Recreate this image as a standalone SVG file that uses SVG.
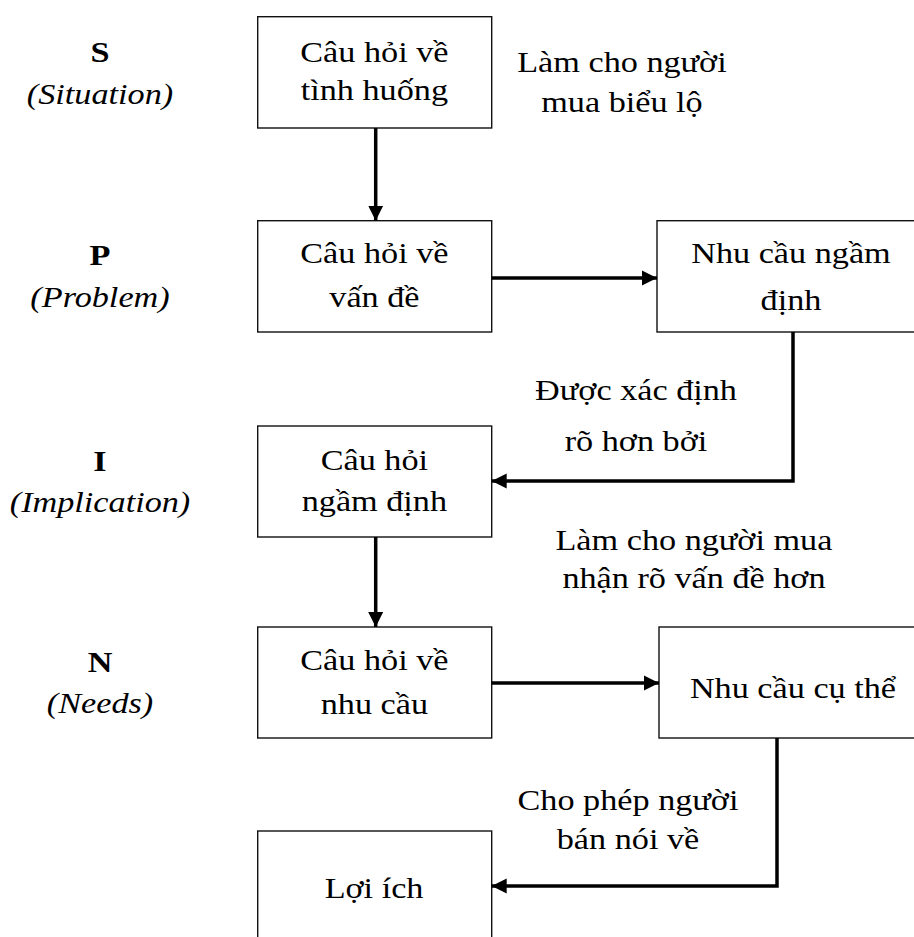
<svg xmlns="http://www.w3.org/2000/svg" width="914" height="937" viewBox="0 0 914 937">
  <style>
    .box { fill: #ffffff; stroke: #111111; stroke-width: 1.4; }
    .t { font-family: "Liberation Serif", "Times New Roman", serif; font-size: 29px; fill: #000000; text-anchor: middle; }
    .b { font-weight: bold; }
    .i { font-style: italic; }
    .conn { fill: none; stroke: #000000; stroke-width: 3.5; }
  </style>
  <defs>
    <marker id="arr" markerUnits="userSpaceOnUse" markerWidth="16" markerHeight="16" viewBox="0 0 16 16" refX="15" refY="8" orient="auto">
      <path d="M0,0.5 L15,8 L0,15.5 z" fill="#000000"/>
    </marker>
  </defs>
  <rect width="914" height="937" fill="#ffffff"/>

  <g id="labels">
    <text class="t b" transform="scale(1.18 1)" x="84.75" y="62">S</text>
    <text class="t i" transform="scale(1.18 1)" x="84.75" y="104">(Situation)</text>
    <text class="t b" transform="scale(1.18 1)" x="84.75" y="265">P</text>
    <text class="t i" transform="scale(1.18 1)" x="84.75" y="307">(Problem)</text>
    <text class="t b" transform="scale(1.18 1)" x="84.75" y="471">I</text>
    <text class="t i" transform="scale(1.18 1)" x="84.75" y="512">(Implication)</text>
    <text class="t b" transform="scale(1.18 1)" x="84.75" y="672">N</text>
    <text class="t i" transform="scale(1.18 1)" x="84.75" y="713">(Needs)</text>
  </g>

  <g id="node-s">
    <rect class="box" x="257.7" y="16.7" width="234" height="111.3"/>
    <text class="t" transform="scale(1.18 1)" x="317.3" y="62">Câu hỏi về</text>
    <text class="t" transform="scale(1.18 1)" x="317.3" y="100">tình huống</text>
  </g>

  <g id="node-p">
    <rect class="box" x="257.7" y="220.7" width="234" height="111.3"/>
    <text class="t" transform="scale(1.18 1)" x="317.3" y="263">Câu hỏi về</text>
    <text class="t" transform="scale(1.18 1)" x="317.3" y="307">vấn đề</text>
  </g>

  <g id="node-implied-need">
    <rect class="box" x="657" y="220.7" width="280" height="111.3"/>
    <text class="t" transform="scale(1.18 1)" x="670.3" y="263">Nhu cầu ngầm</text>
    <text class="t" transform="scale(1.18 1)" x="670.3" y="310">định</text>
  </g>

  <g id="node-i">
    <rect class="box" x="257.7" y="426" width="234" height="111"/>
    <text class="t" transform="scale(1.18 1)" x="317.3" y="470">Câu hỏi</text>
    <text class="t" transform="scale(1.18 1)" x="317.3" y="511">ngầm định</text>
  </g>

  <g id="node-n">
    <rect class="box" x="257.7" y="627" width="234" height="111"/>
    <text class="t" transform="scale(1.18 1)" x="317.3" y="670">Câu hỏi về</text>
    <text class="t" transform="scale(1.18 1)" x="317.3" y="714">nhu cầu</text>
  </g>

  <g id="node-explicit-need">
    <rect class="box" x="659" y="627" width="280" height="111"/>
    <text class="t" transform="scale(1.18 1)" x="672" y="698">Nhu cầu cụ thể</text>
  </g>

  <g id="node-benefit">
    <rect class="box" x="257.7" y="831" width="234" height="130"/>
    <text class="t" transform="scale(1.18 1)" x="317" y="898">Lợi ích</text>
  </g>

  <g id="connectors">
    <line class="conn" x1="375.7" y1="128" x2="375.7" y2="220.7" marker-end="url(#arr)"/>
    <line class="conn" x1="491.7" y1="278" x2="657" y2="278" marker-end="url(#arr)"/>
    <polyline class="conn" points="793,332 793,481 491.7,481" marker-end="url(#arr)"/>
    <line class="conn" x1="375.7" y1="537" x2="375.7" y2="627" marker-end="url(#arr)"/>
    <line class="conn" x1="491.7" y1="683" x2="659" y2="683" marker-end="url(#arr)"/>
    <polyline class="conn" points="777,738 777,886 491.7,886" marker-end="url(#arr)"/>
  </g>

  <g id="edge-labels">
    <text class="t" transform="scale(1.18 1)" x="527.1" y="72">Làm cho người</text>
    <text class="t" transform="scale(1.18 1)" x="527.1" y="112">mua biểu lộ</text>
    <text class="t" transform="scale(1.18 1)" x="539" y="400">Được xác định</text>
    <text class="t" transform="scale(1.18 1)" x="539" y="451">rõ hơn bởi</text>
    <text class="t" transform="scale(1.18 1)" x="588.1" y="550">Làm cho người mua</text>
    <text class="t" transform="scale(1.18 1)" x="588.1" y="588">nhận rõ vấn đề hơn</text>
    <text class="t" transform="scale(1.18 1)" x="532.2" y="810">Cho phép người</text>
    <text class="t" transform="scale(1.18 1)" x="532.2" y="849">bán nói về</text>
  </g>
</svg>
